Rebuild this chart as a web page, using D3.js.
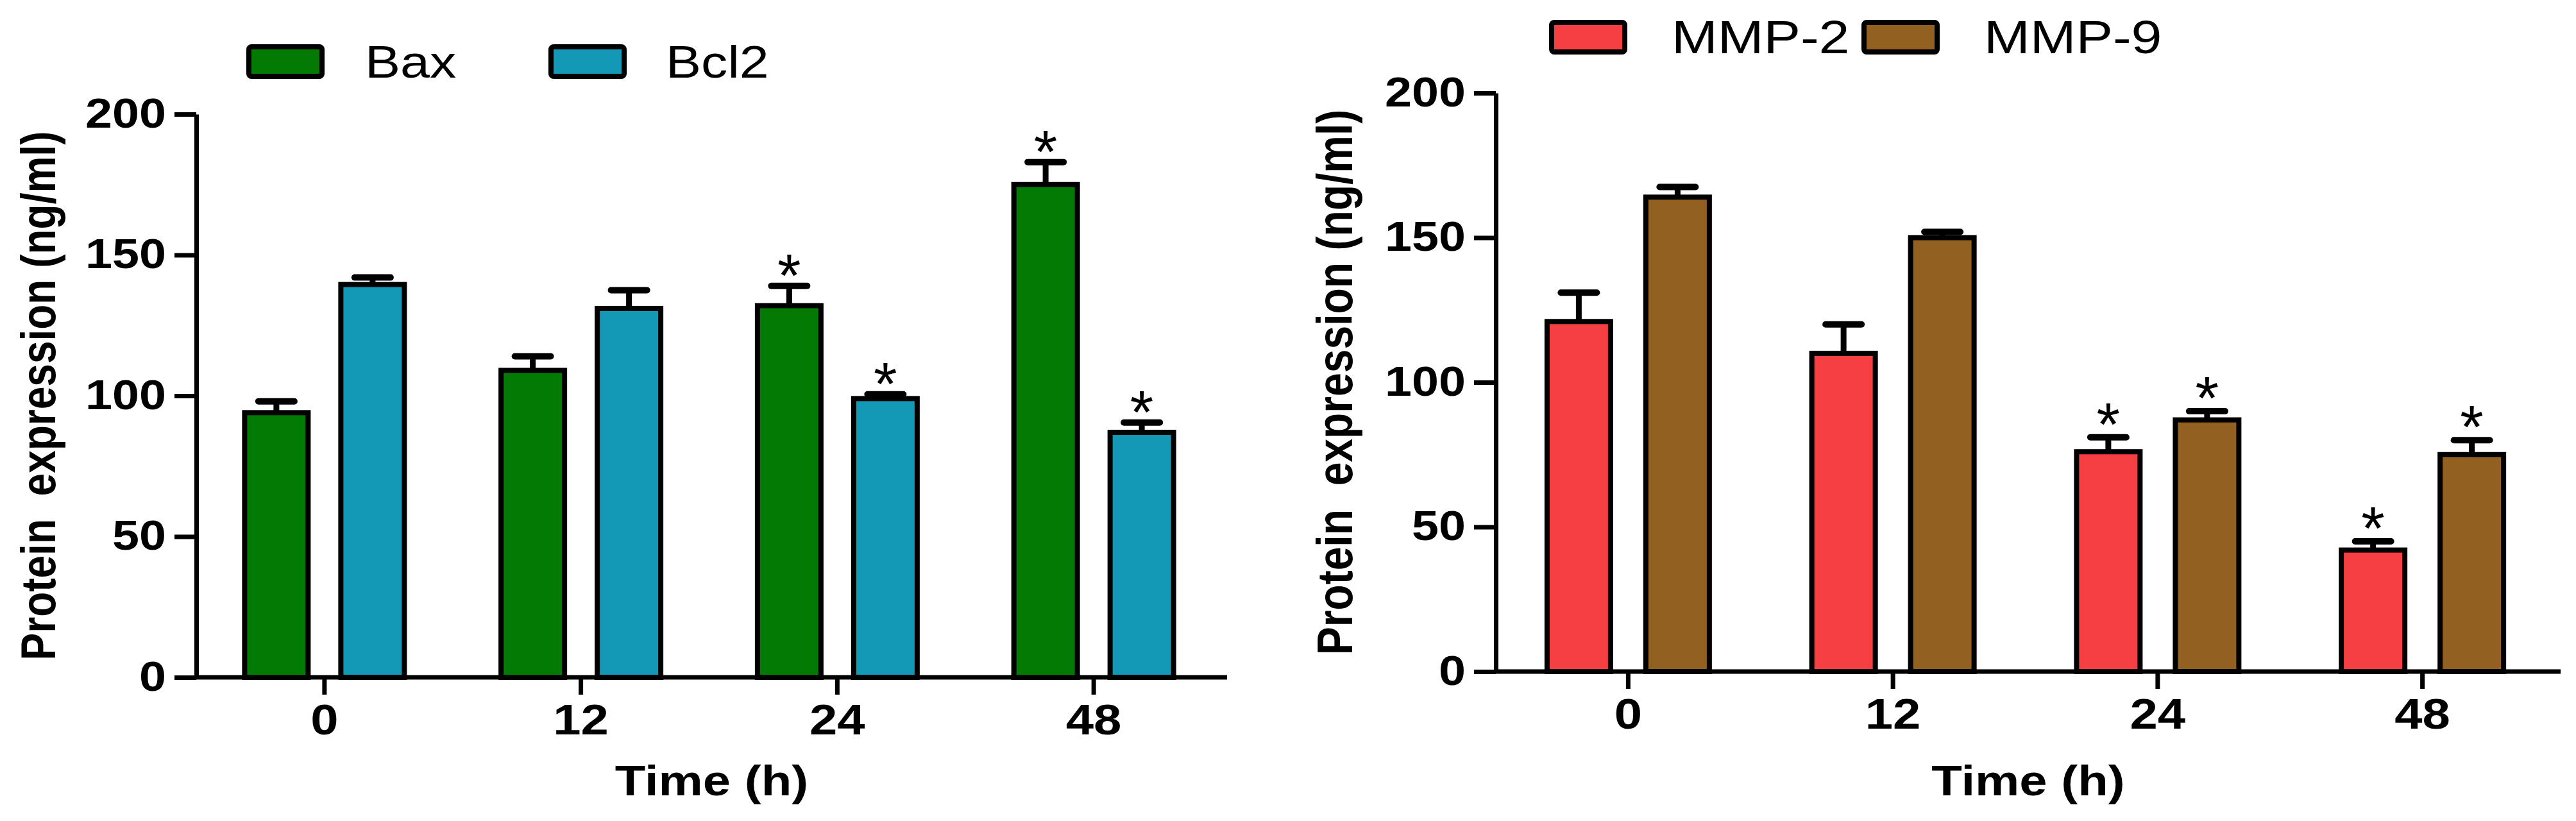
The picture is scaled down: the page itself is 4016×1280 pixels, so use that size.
<!DOCTYPE html>
<html>
<head>
<meta charset="utf-8">
<script src="https://cdn.jsdelivr.net/npm/d3@7"></script>
<style>
  body { margin: 0; background: #fff; }
  text { font-family: Arial, "Liberation Sans", sans-serif; }
</style>
</head>
<body>
<div class="canvas"></div>
<script>
// time points (h)
const times = ["0", "12", "24", "48"];
const yTicks = [0, 50, 100, 150, 200];

// left panel
const apoptosisSeries = ["Bax", "Bcl2"];
const baxValues = [94, 109, 132, 175];
const baxErrors = [4, 5, 7, 8];
const baxStars = [false, false, true, true];
const bcl2Values = [139.5, 131, 99, 87];
const bcl2Errors = [2.5, 6.5, 1.5, 3.5];
const bcl2Stars = [false, false, true, true];

// right panel
const mmpSeries = ["MMP-2", "MMP-9"];
const mmp2Values = [121, 110, 76, 42];
const mmp2Errors = [10, 10, 5, 3];
const mmp2Stars = [false, false, true, true];
const mmp9Values = [164, 150, 87, 75];
const mmp9Errors = [3.5, 2, 3, 5];
const mmp9Stars = [false, false, true, true];

const width = 4016;
const height = 1280;
const stretch = 1.18; // the source figure is a bit wider than tall

const svg = d3
  .select(".canvas")
  .append("svg")
  .attr("width", width)
  .attr("height", height);

function drawPanel(p) {
  const g = svg.append("g");

  const x = d3.scaleBand().domain(times).range([p.x0, p.x1]);
  const y = d3.scaleLinear().domain([0, 200]).range([p.yBottom, p.yTop]);
  const inner = d3
    .scaleBand()
    .domain(p.series)
    .range([-p.half - p.barW / 2, p.half + p.barW / 2])
    .paddingInner(1 - p.barW / (2 * p.half));

  const rows = [];
  times.forEach((t, i) => {
    p.series.forEach((s, k) => {
      rows.push({
        t: t,
        s: s,
        v: p.values[k][i],
        e: p.errors[k][i],
        star: p.stars[k][i],
        color: p.colors[k],
      });
    });
  });
  const cx = (d) => x(d.t) + x.bandwidth() / 2 + inner(d.s) + inner.bandwidth() / 2;

  // error bars (drawn under the bar outline)
  g.selectAll(".stem")
    .data(rows)
    .enter()
    .append("line")
    .attr("x1", cx)
    .attr("x2", cx)
    .attr("y1", (d) => y(d.v))
    .attr("y2", (d) => y(d.v + d.e))
    .attr("stroke", "#000")
    .attr("stroke-width", 9);

  g.selectAll(".cap")
    .data(rows)
    .enter()
    .append("line")
    .attr("x1", (d) => cx(d) - 28)
    .attr("x2", (d) => cx(d) + 28)
    .attr("y1", (d) => y(d.v + d.e))
    .attr("y2", (d) => y(d.v + d.e))
    .attr("stroke", "#000")
    .attr("stroke-width", 10)
    .attr("stroke-linecap", "round");

  g.selectAll(".bar")
    .data(rows)
    .enter()
    .append("rect")
    .attr("x", (d) => x(d.t) + x.bandwidth() / 2 + inner(d.s))
    .attr("y", (d) => y(d.v))
    .attr("width", inner.bandwidth())
    .attr("height", (d) => y(0) - y(d.v))
    .attr("fill", (d) => d.color)
    .attr("stroke", "#000")
    .attr("stroke-width", 8);

  g.selectAll(".star")
    .data(rows.filter((d) => d.star))
    .enter()
    .append("text")
    .attr("x", cx)
    .attr("y", (d) => y(d.v + d.e) + p.starDrop)
    .attr("text-anchor", "middle")
    .attr("font-size", 94)
    .attr("fill", "#000")
    .text("*");

  // y axis
  const yAxis = g
    .append("g")
    .attr("transform", `translate(${p.x0},0)`)
    .call(d3.axisLeft(y).tickValues(yTicks).tickSize(34).tickSizeOuter(0).tickPadding(13));
  yAxis.attr("font-family", "Arial, 'Liberation Sans', sans-serif");
  yAxis.select(".domain").attr("stroke-width", 7);
  yAxis.selectAll(".tick line").attr("stroke-width", 7);
  yAxis
    .selectAll(".tick text")
    .attr("font-size", 64)
    .attr("font-weight", "bold")
    .attr("fill", "#000")
    .attr("x", -(34 + 13) / stretch)
    .attr("transform", `scale(${stretch},1)`);

  // x axis
  const xAxis = g
    .append("g")
    .attr("transform", `translate(0,${p.yBottom})`)
    .call(d3.axisBottom(x).tickSize(27).tickSizeOuter(0).tickPadding(15));
  xAxis.attr("font-family", "Arial, 'Liberation Sans', sans-serif");
  xAxis.select(".domain").remove();
  xAxis.selectAll(".tick line").attr("stroke-width", 7);
  xAxis
    .selectAll(".tick text")
    .attr("font-size", 66)
    .attr("font-weight", "bold")
    .attr("fill", "#000")
    .attr("transform", `scale(${stretch},1)`);

  g.append("line")
    .attr("x1", p.x0)
    .attr("x2", p.axisEnd)
    .attr("y1", y(0))
    .attr("y2", y(0))
    .attr("stroke", "#000")
    .attr("stroke-width", 7);

  // axis titles
  g.append("text")
    .attr("transform", `translate(${p.yLabelX},${(y(0) + y(200)) / 2}) scale(${stretch},1) rotate(-90)`)
    .attr("text-anchor", "middle")
    .attr("font-size", p.yLabelSize)
    .attr("font-weight", "bold")
    .style("white-space", "pre")
    .text("Protein  expression (ng/ml)");

  g.append("text")
    .attr("transform", `translate(${(p.x0 + p.axisEnd) / 2},1240) scale(${stretch},1)`)
    .attr("text-anchor", "middle")
    .attr("font-size", 66)
    .attr("font-weight", "bold")
    .text("Time (h)");

  // legend
  p.series.forEach((s, k) => {
    g.append("rect")
      .attr("x", p.legendBoxX[k])
      .attr("y", p.legendY)
      .attr("width", 114)
      .attr("height", 46)
      .attr("rx", 4)
      .attr("fill", p.colors[k])
      .attr("stroke", "#000")
      .attr("stroke-width", 8);
    g.append("text")
      .attr("transform", `translate(${p.legendTextX[k]},${p.legendY + 48}) scale(${stretch},1)`)
      .attr("font-size", p.legendSize)
      .text(s);
  });
}

drawPanel({
  series: apoptosisSeries,
  values: [baxValues, bcl2Values],
  errors: [baxErrors, bcl2Errors],
  stars: [baxStars, bcl2Stars],
  colors: ["#037A03", "#1399B5"],
  x0: 306,
  x1: 1905,
  axisEnd: 1913,
  yBottom: 1056,
  yTop: 178,
  half: 75,
  barW: 99,
  starDrop: 16,
  yLabelX: 86,
  yLabelSize: 64,
  legendY: 73,
  legendSize: 70,
  legendBoxX: [388, 859],
  legendTextX: [569, 1038],
});

drawPanel({
  series: mmpSeries,
  values: [mmp2Values, mmp9Values],
  errors: [mmp2Errors, mmp9Errors],
  stars: [mmp2Stars, mmp9Stars],
  colors: ["#F53F42", "#926121"],
  x0: 2332,
  x1: 3983,
  axisEnd: 3992,
  yBottom: 1047,
  yTop: 145,
  half: 77,
  barW: 99,
  starDrop: 12,
  yLabelX: 2108,
  yLabelSize: 66,
  legendY: 35,
  legendSize: 73,
  legendBoxX: [2419, 2906],
  legendTextX: [2606, 3093],
});
</script>
</body>
</html>
